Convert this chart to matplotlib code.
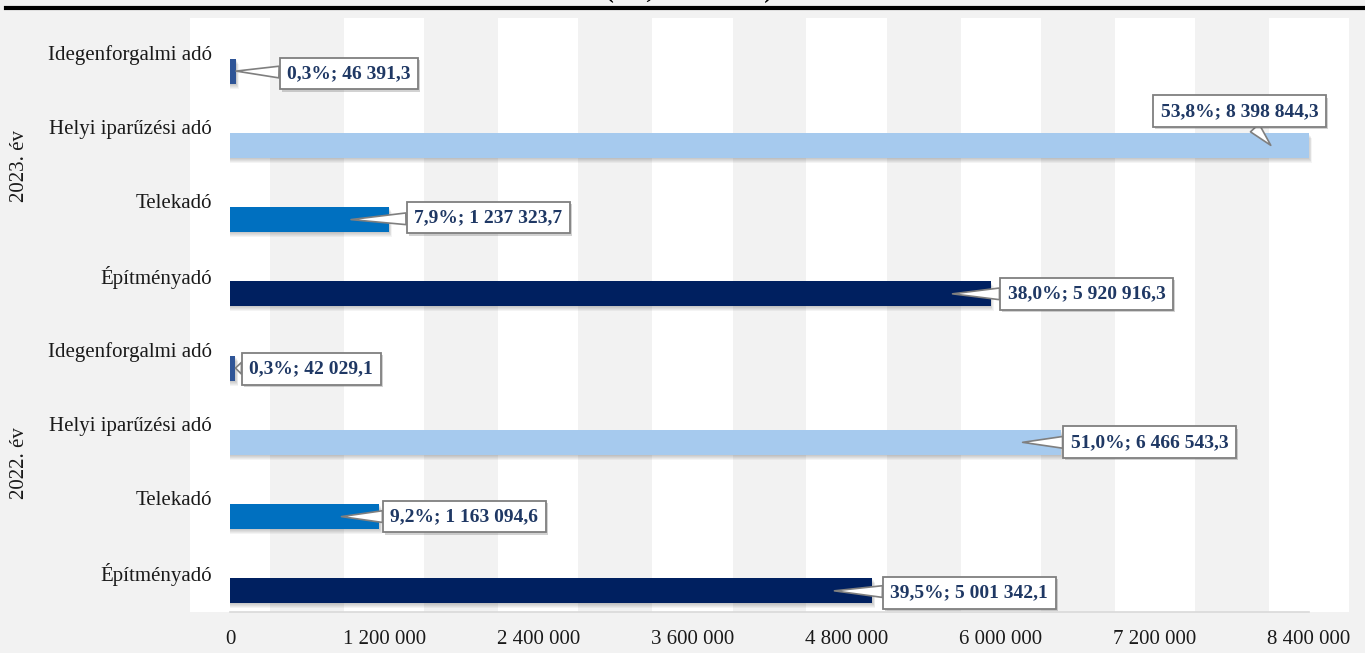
import matplotlib
matplotlib.use("Agg")
import matplotlib.pyplot as plt
import matplotlib.patheffects as pe
from matplotlib.lines import Line2D
from matplotlib.transforms import blended_transform_factory
import numpy as np

plt.rcParams['font.family'] = ['Liberation Serif', 'DejaVu Serif']

# ---- data ----
years = ['2022. év', '2023. év']
taxes = ['Építményadó', 'Telekadó', 'Helyi iparűzési adó', 'Idegenforgalmi adó']
values_2022 = [5001342.1, 1163094.6, 6466543.3, 42029.1]
values_2023 = [5920916.3, 1237323.7, 8398844.3, 46391.3]
shares_2022 = [39.5, 9.2, 51.0, 0.3]
shares_2023 = [38.0, 7.9, 53.8, 0.3]
x_ticks = [0, 1200000, 2400000, 3600000, 4800000, 6000000, 7200000, 8400000]
title_text = '(eFt, 2022–2023)'

# ---- styles / layout ----
tax_colors = ['#002060', '#0070C0', '#A6CAEE', '#2F5597']
label_color = '#1F3864'
bg = '#F2F2F2'
W, H = 1365, 653
# callout text offsets in pixels (text left edge / vertical) relative to tip
callout_offsets = [(56, -2), (49, 0), (48, 0), (14, -1),
                   (55, 0), (63, 2), (-110, 34), (51, -2.5)]

fig = plt.figure(figsize=(W / 100, H / 100), dpi=100, facecolor=bg)
ax_left, ax_right, ax_top, ax_bot = 190, 1349, 18, 612
ax = fig.add_axes([ax_left / W, (H - ax_bot) / H, (ax_right - ax_left) / W, (ax_bot - ax_top) / H])
ax.set_facecolor(bg)
step = x_ticks[1] - x_ticks[0]
half = 0.26 * step
ax.set_xlim(x_ticks[0] - half, x_ticks[-1] + half)
ax.set_ylim(-0.5, 7.5)
for s in ax.spines.values():
    s.set_visible(False)

# white stripes centred on ticks
for t in x_ticks:
    ax.axvspan(t - half, t + half, color='white', zorder=0, lw=0)

# bottom axis line
ax.plot([x_ticks[0], x_ticks[-1]], [-0.5, -0.5], color='#D9D9D9', lw=1.2,
        clip_on=False, zorder=1)

# bars
values = values_2022 + values_2023
shares = shares_2022 + shares_2023
colors = tax_colors * 2
n = len(values)
ypos = np.arange(n) - 0.215
bh = 0.337
px_x = (ax.get_xlim()[1] - ax.get_xlim()[0]) / (ax_right - ax_left)
px_y = 8.0 / (ax_bot - ax_top)

for k in range(1, 6):
    ax.barh(ypos - k * px_y, np.array(values) + k * 0.6 * px_x, height=bh,
            color='black', alpha=0.045, zorder=1.5, lw=0)
ax.barh(ypos, values, height=bh, color=colors, zorder=2, lw=0)

# category labels
for i in range(n):
    ax.text(-140000, i, taxes[i % 4], ha='right', va='center', fontsize=15,
            color='#1a1a1a', zorder=4)

# year labels
tr = blended_transform_factory(fig.transFigure, ax.transData)
for g, yr in enumerate(years):
    ax.text(19 / W, g * 4 + 1.5, yr, rotation=90, ha='center', va='center',
            fontsize=15, color='#1a1a1a', transform=tr)

# x ticks
ax.set_yticks([])
ax.set_xticks(x_ticks)
ax.set_xticklabels([f"{t:,.0f}".replace(',', ' ') for t in x_ticks])
ax.tick_params(axis='x', length=0, pad=13, labelsize=15, labelcolor='#1a1a1a')


def fmt(v):
    return f"{v:,.1f}".replace(',', ' ').replace('.', ',')


# callouts
tip_back = 38 * px_x
for i in range(n):
    v = values[i]
    tip_x = v - tip_back if v > tip_back else v
    dx, dy = callout_offsets[i]
    txt = f"{shares[i]:.1f}".replace('.', ',') + '%; ' + fmt(v)
    a = ax.annotate(txt, xy=(tip_x, ypos[i]), xytext=(dx, dy),
                    textcoords='offset pixels', ha='left', va='center',
                    fontsize=14, fontweight='bold', color=label_color,
                    bbox=dict(boxstyle='square,pad=0.38', fc='white', ec='#7F7F7F', lw=1.3),
                    arrowprops=dict(arrowstyle='wedge,tail_width=0.6,shrink_factor=0.5',
                                    fc='white', ec='#7F7F7F', lw=1.2,
                                    shrinkA=0, shrinkB=0),
                    zorder=5)
    a.get_bbox_patch().set_path_effects([pe.SimplePatchShadow(offset=(1.5, -1.5), alpha=0.25), pe.Normal()])

# top rule and (cut-off) title
fig.add_artist(Line2D([6 / W, 1363 / W], [1 - 8 / H, 1 - 8 / H], color='black', lw=3))
fig.text(689 / W, 1 + 2 / H, title_text, ha='center', va='baseline', fontsize=17,
         fontweight='bold', color='black')

fig.savefig('out.png', dpi=100, facecolor=bg)
